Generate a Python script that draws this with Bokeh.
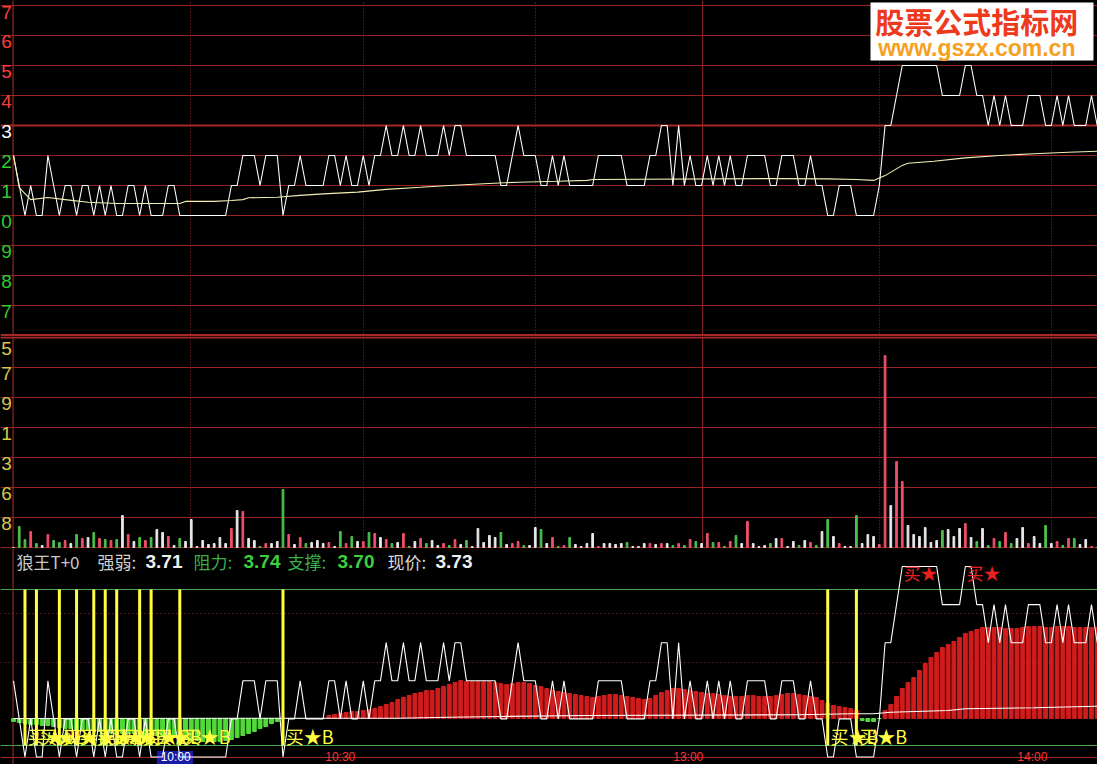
from bokeh.plotting import figure
from bokeh.layouts import column
from bokeh.models import Range1d, Span, Grid, FixedTicker, BoxAnnotation
from bokeh.core.properties import value
from bokeh.embed import file_html
from bokeh.resources import INLINE

# ---------------- data ----------------
minute = list(range(190))  # minutes since 9:30

price = [
    3.72, 3.71, 3.70, 3.71, 3.70, 3.70, 3.72, 3.71, 3.70, 3.71,
    3.71, 3.70, 3.71, 3.71, 3.70, 3.71, 3.70, 3.71, 3.70, 3.70,
    3.71, 3.71, 3.70, 3.71, 3.70, 3.70, 3.70, 3.71, 3.71, 3.70,
    3.70, 3.70, 3.70, 3.70, 3.70, 3.70, 3.70, 3.70, 3.71, 3.71,
    3.72, 3.72, 3.72, 3.71, 3.72, 3.72, 3.72, 3.70, 3.71, 3.71,
    3.72, 3.71, 3.71, 3.71, 3.71, 3.72, 3.72, 3.71, 3.72, 3.71,
    3.71, 3.72, 3.71, 3.72, 3.72, 3.73, 3.72, 3.72, 3.73, 3.72,
    3.72, 3.73, 3.72, 3.72, 3.72, 3.73, 3.72, 3.73, 3.73, 3.72,
    3.72, 3.72, 3.72, 3.72, 3.72, 3.71, 3.71, 3.72, 3.73, 3.72,
    3.72, 3.72, 3.71, 3.71, 3.72, 3.71, 3.72, 3.71, 3.71, 3.71,
    3.71, 3.71, 3.72, 3.72, 3.72, 3.72, 3.72, 3.71, 3.71, 3.71,
    3.71, 3.72, 3.72, 3.73, 3.73, 3.71, 3.73, 3.71, 3.72, 3.71,
    3.71, 3.72, 3.71, 3.72, 3.71, 3.72, 3.71, 3.71, 3.72, 3.72,
    3.72, 3.72, 3.71, 3.71, 3.72, 3.72, 3.72, 3.71, 3.71, 3.72,
    3.71, 3.71, 3.70, 3.70, 3.71, 3.71, 3.71, 3.70, 3.70, 3.70,
    3.70, 3.71, 3.73, 3.73, 3.74, 3.75, 3.75, 3.75, 3.75, 3.75,
    3.75, 3.75, 3.74, 3.74, 3.74, 3.74, 3.75, 3.75, 3.74, 3.74,
    3.73, 3.74, 3.73, 3.74, 3.73, 3.73, 3.73, 3.74, 3.74, 3.74,
    3.73, 3.73, 3.74, 3.73, 3.74, 3.73, 3.73, 3.73, 3.74, 3.73,
]

avg_minute = [0, 1, 2, 3, 6, 9, 13, 18, 29, 30, 35, 38, 40, 41, 46, 50, 54, 60, 65, 71, 76,
              82, 88, 95, 100, 101, 133, 142, 147, 150, 152, 155, 156, 160.5, 166, 172, 178, 184, 189]
avg_price = [3.7200, 3.7093, 3.7073, 3.7053, 3.7060, 3.7053, 3.7044, 3.7040, 3.7040, 3.7047, 3.7047,
             3.7050, 3.7053, 3.7059, 3.7061, 3.7067, 3.7072, 3.7078, 3.7087, 3.7094, 3.7100,
             3.7106, 3.7111, 3.7114, 3.7117, 3.7120, 3.7123, 3.7122, 3.7120, 3.7117, 3.7133,
             3.7167, 3.7174, 3.7181, 3.7192, 3.7200, 3.7206, 3.7211, 3.7214]

volume = [
    0, 210, 80, 160, 40, 20, 130, 70, 50, 70,
    40, 130, 90, 100, 150, 90, 80, 70, 80, 320,
    130, 60, 100, 70, 100, 180, 150, 110, 20, 90,
    60, 280, 10, 70, 30, 40, 100, 40, 190, 370,
    360, 90, 70, 10, 40, 40, 60, 580, 130, 30,
    100, 40, 50, 70, 40, 50, 10, 160, 40, 110,
    60, 60, 150, 140, 100, 80, 40, 50, 140, 10,
    60, 90, 40, 70, 20, 40, 20, 80, 30, 70,
    10, 190, 50, 120, 100, 150, 30, 40, 60, 20,
    20, 200, 180, 40, 100, 10, 20, 100, 30, 10,
    40, 140, 10, 40, 40, 30, 40, 50, 10, 10,
    40, 40, 30, 40, 40, 20, 40, 20, 80, 60,
    40, 140, 50, 50, 10, 60, 120, 40, 260, 40,
    10, 20, 40, 90, 90, 10, 60, 20, 70, 50,
    20, 160, 280, 110, 40, 10, 10, 320, 40, 130,
    110, 30, 1920, 420, 860, 660, 220, 130, 110, 200,
    50, 70, 170, 180, 110, 190, 240, 100, 60, 190,
    20, 90, 60, 150, 40, 90, 200, 40, 110, 40,
    220, 40, 60, 20, 90, 90, 30, 80, 10, 0,
]

strength = [
    -3, -4, -5, -6, -6, -7, -7, -8, -9, -10,
    -10, -11, -11, -12, -12, -13, -13, -14, -14, -15,
    -15, -15, -16, -16, -17, -17, -18, -18, -19, -20,
    -21, -22, -22, -23, -23, -23, -23, -22, -21, -19,
    -17, -15, -13, -10, -8, -5, -3, 0, 0, 0,
    0, 0, 0, 0, 0, 3, 4, 5, 6, 7,
    7, 8, 9, 10, 12, 14, 16, 19, 21, 23,
    25, 26, 28, 28, 30, 32, 34, 36, 38, 37,
    37, 37, 37, 37, 36, 35, 34, 35, 36, 36,
    35, 33, 32, 30, 28, 27, 26, 25, 24, 23,
    22, 21, 22, 23, 24, 24, 23, 22, 21, 20,
    19, 20, 23, 26, 28, 30, 30, 29, 28, 27,
    26, 25, 25, 24, 23, 22, 22, 22, 23, 23,
    22, 22, 22, 23, 24, 25, 25, 24, 23, 22,
    21, 18, 15, 13, 12, 11, 10, 8, -2, -3,
    -3, 0, 8, 14, 22, 30, 36, 41, 48, 55,
    61, 66, 71, 74, 77, 81, 85, 87, 89, 91,
    91, 91, 91, 90, 90, 90, 91, 92, 92, 92,
    91, 91, 92, 92, 92, 91, 91, 91, 91, 91,
]

slow_minute = [0, 67, 76, 85, 100, 137, 146, 150, 153, 163, 166, 178, 189]
slow_value = [0, 0.3, 1.3, 2, 3, 3.7, 4.7, 4.7, 6.3, 8, 9.7, 10.7, 12.3]

buy_minutes = [2, 4, 8, 11, 14, 16, 18, 22, 24, 29, 47, 142, 147]
top_minutes = [155, 166]
band_hi, band_lo = 129, -27        # indicator band (green lines)
mid_levels = [56, 105]             # indicator dotted levels

price_ticks = [3.77, 3.76, 3.75, 3.74, 3.73, 3.72, 3.71, 3.70, 3.69, 3.68, 3.67]
price_tick_text = ["7", "6", "5", "4", "3", "2", "1", "0", "9", "8", "7"]
prev_close = 3.73
vol_ticks = [2100, 1800, 1500, 1200, 900, 600, 300]
vol_tick_text = ["5", "7", "9", "1", "3", "6", "8"]

time_grid = [30.9, 61.0, 91.0, 151.0, 181.0]
midday = 120.2
time_labels = ["10:00", "10:30", "13:00", "14:00"]
time_label_at = [30.9, 59.6, 120.3, 180.3]

name = "狼王T+0"
strong_weak, resistance, support, last_price = "3.71", "3.74", "3.70", "3.73"

# ---------------- style ----------------
BG = "#000000"
GRID = "#962222"
WHITE = "#ffffff"
RED_T = "#ff3b3b"
GREEN_T = "#2ecc2e"
YEL = "#ffff40"
CJK = value("Noto Sans CJK SC")
W = 1097
H1, H2, H3 = 336, 212, 216
xr = Range1d(-2.267, 189.05)


def panel(h, yr):
    p = figure(width=W, height=h, x_range=xr, y_range=yr, x_axis_type=None, y_axis_type=None,
               tools="", toolbar_location=None, output_backend="svg",
               background_fill_color=BG, border_fill_color=BG, outline_line_color=None,
               min_border=0)
    p.min_border_left = p.min_border_right = p.min_border_top = p.min_border_bottom = 0
    return p


def border(p):
    p.add_layout(Span(location=-0.08, dimension="height", line_color="#b02a2a", line_width=1, level="underlay"))


# ---------------- price panel ----------------
p1 = panel(H1, Range1d(3.659667, 3.771667))
p1.add_layout(Grid(dimension=1, ticker=FixedTicker(ticks=price_ticks), grid_line_color=GRID, grid_line_width=1))
p1.add_layout(Grid(dimension=0, ticker=FixedTicker(ticks=time_grid), grid_line_color=GRID,
                   grid_line_dash="1 2", grid_line_width=1))
p1.add_layout(Span(location=prev_close, dimension="width", line_color="#a82828", line_width=2, level="underlay"))
p1.add_layout(Span(location=3.66, dimension="width", line_color="#a82828", line_width=3, level="underlay"))
p1.add_layout(Span(location=midday, dimension="height", line_color="#a02828", line_width=1, level="underlay"))
border(p1)
p1.add_layout(BoxAnnotation(left=149.46, right=188.35, top=3.7710, bottom=3.7517,
                            fill_color="white", fill_alpha=1.0, line_color=None, level="underlay"))

p1.line(minute, price, line_color=WHITE, line_width=1.1)
p1.line(avg_minute, avg_price, line_color="#f3efb4", line_width=1.1)

lab_col = [RED_T if t > prev_close + 1e-9 else (WHITE if abs(t - prev_close) < 1e-9 else GREEN_T)
           for t in price_ticks]
p1.text(x=[-0.3] * len(price_ticks), y=price_ticks, text=price_tick_text, text_color=lab_col,
        text_font=value("Liberation Sans"), text_font_size="19px", text_align="right",
        text_baseline="middle", y_offset=[7] + [6] * (len(price_ticks) - 1))

p1.text(x=[150.3], y=[3.7647], text=["股票公式指标网"], text_color="#ee3a1c",
        text_font=CJK, text_font_style="bold", text_font_size="29px", text_baseline="middle")
p1.text(x=[150.8], y=[3.7560], text=["www.gszx.com.cn"], text_color="#f5a01e",
        text_font=value("Liberation Sans"), text_font_style="bold", text_font_size="23px",
        text_baseline="middle")

# ---------------- volume panel ----------------
p2 = panel(H2, Range1d(-10, 2110))
p2.add_layout(Grid(dimension=1, ticker=FixedTicker(ticks=[0] + vol_ticks[1:]), grid_line_color=GRID,
                   grid_line_width=1))
p2.add_layout(Grid(dimension=0, ticker=FixedTicker(ticks=time_grid), grid_line_color=GRID,
                   grid_line_dash="1 2", grid_line_width=1))
p2.add_layout(Span(location=vol_ticks[0], dimension="width", line_color="#a82828", line_width=2, level="underlay"))
p2.add_layout(Span(location=midday, dimension="height", line_color="#a02828", line_width=1, level="underlay"))
border(p2)

vol_colors = []
for i, pr in enumerate(price):
    if i == 0 or pr == price[i - 1]:
        vol_colors.append("#e8e8e8")
    elif pr > price[i - 1]:
        vol_colors.append("#f0506a")
    else:
        vol_colors.append("#4cc04c")
p2.vbar(x=minute, top=volume, bottom=0, width=0.3, color=vol_colors)
p2.text(x=[-0.3] * len(vol_ticks), y=vol_ticks, text=vol_tick_text, text_color="#d6c84a",
        text_font=value("Liberation Sans"), text_font_size="19px", text_align="right",
        text_baseline="middle", y_offset=[11] + [6] * (len(vol_ticks) - 1))

# ---------------- indicator panel ----------------
p3 = panel(H3, Range1d(-46, 170))
p3.extra_y_ranges = {"price": Range1d(3.698031, 3.754724)}
p3.add_layout(Grid(dimension=1, ticker=FixedTicker(ticks=mid_levels), grid_line_color="#a03030",
                   grid_line_dash="1 3", grid_line_width=1))
p3.add_layout(Grid(dimension=1, ticker=FixedTicker(ticks=[band_lo, band_hi]), grid_line_color="#46a846",
                   grid_line_width=1))
p3.add_layout(Span(location=-39, dimension="width", line_color="#a82828", line_width=1, level="underlay"))
border(p3)
p3.add_layout(BoxAnnotation(left=25.0, right=31.3, top=-32.5, bottom=-60,
                            fill_color="#1a1aa8", fill_alpha=1.0, line_color=None, level="underlay"))

ind_colors = ["#d01c1c" if s > 0 else "#52d83a" for s in strength]
p3.vbar(x=minute, top=strength, bottom=0, width=0.68, color=ind_colors)
p3.line(slow_minute, slow_value, line_color=WHITE, line_width=1.1)
p3.line(minute, price, y_range_name="price", line_color=WHITE, line_width=1.1)
p3.segment(x0=buy_minutes, y0=[band_lo] * len(buy_minutes), x1=buy_minutes, y1=[band_hi] * len(buy_minutes),
           line_color=YEL, line_width=3)
p3.text(x=[m + 0.5 for m in buy_minutes], y=[-17] * len(buy_minutes), text=["买★B"] * len(buy_minutes),
        text_color=YEL, text_font=CJK, text_font_size="18px", text_baseline="middle")
p3.text(x=[m + 0.2 for m in top_minutes], y=[146] * len(top_minutes), text=["买★"] * len(top_minutes),
        text_color="#e82020", text_font=CJK, text_font_size="17px", text_baseline="middle")

# title line
p3.text(x=[0.52, 14.65, 31.39, 47.78, 65.22], y=[157] * 5,
        text=[name, "强弱:", "阻力:", "支撑:", "现价:"],
        text_color=["#c8c8c8", "#d0d0d0", "#3cae48", "#3cae48", "#d8d8d8"],
        text_font=CJK, text_font_size="17px", text_baseline="middle")
p3.text(x=[23.02, 40.11, 56.5, 73.6], y=[157] * 4,
        text=[strong_weak, resistance, support, last_price],
        text_color=["#f0f0f0", "#3cd03c", "#3cd03c", "#f0f0f0"],
        text_font=value("Liberation Sans"), text_font_style="bold", text_font_size="19px",
        text_baseline="middle")

# time labels along the bottom edge
p3.text(x=time_label_at, y=[-45] * len(time_labels), text=time_labels,
        text_color=["#ffffff", "#ff3030", "#ff3030", "#ff3030"],
        text_font=value("Liberation Sans"), text_font_size="12px", text_align="right",
        text_baseline="bottom")

layout = column(p1, p2, p3, spacing=0)
html = file_html(layout, INLINE, title="狼王T+0")
html = html.replace("</head>",
                    "<style>html,body{margin:0;padding:0;overflow:hidden;background:#000000;}</style></head>", 1)
open("out.html", "w").write(html)
